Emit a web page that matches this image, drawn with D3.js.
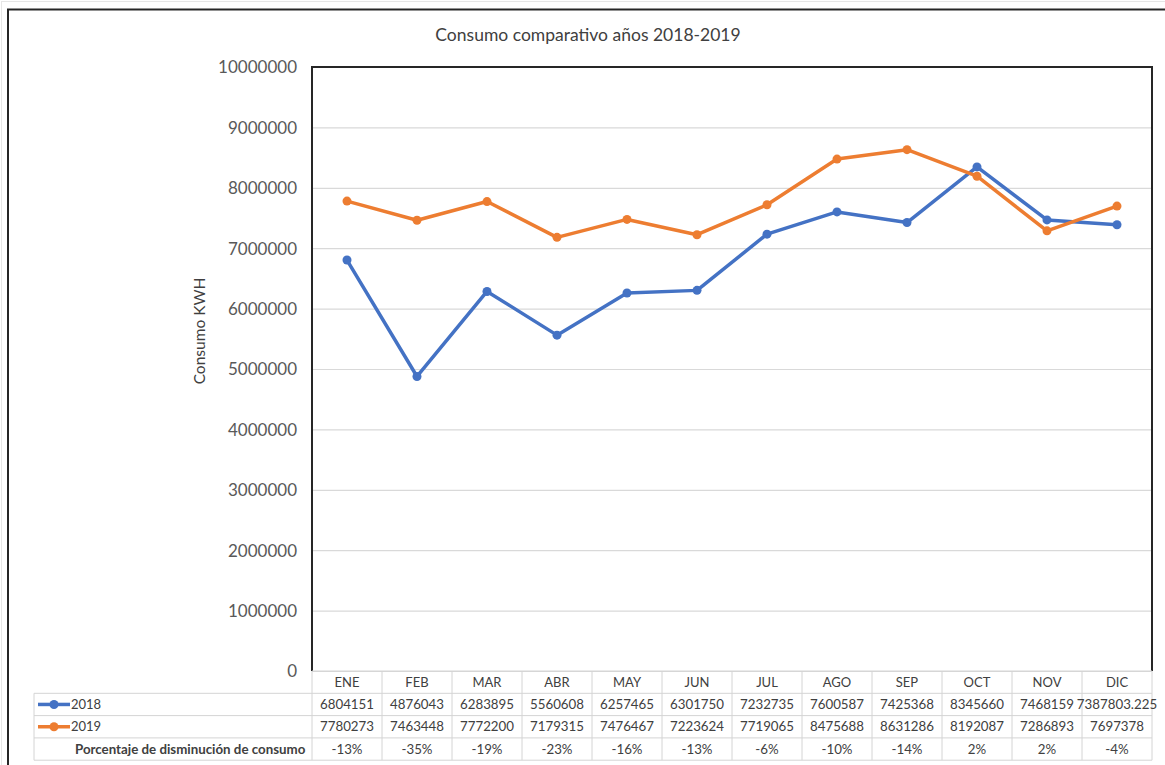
<!DOCTYPE html>
<html>
<head>
<meta charset="utf-8">
<script src="https://cdn.jsdelivr.net/npm/d3@7"></script>
<style>
  body { margin: 0; background: #fff; }
  text { font-family: Lato, "Open Sans", sans-serif; }
</style>
</head>
<body>
<div id="chart"></div>
<script>
  // data
  var months = ["ENE", "FEB", "MAR", "ABR", "MAY", "JUN", "JUL", "AGO", "SEP", "OCT", "NOV", "DIC"]
  var consumo2018 = [6804151, 4876043, 6283895, 5560608, 6257465, 6301750, 7232735, 7600587, 7425368, 8345660, 7468159, 7387803.225]
  var consumo2019 = [7780273, 7463448, 7772200, 7179315, 7476467, 7223624, 7719065, 8475688, 8631286, 8192087, 7286893, 7697378]
  var porcentaje = ["-13%", "-35%", "-19%", "-23%", "-16%", "-13%", "-6%", "-10%", "-14%", "2%", "2%", "-4%"]
  var yTicks = [0, 1000000, 2000000, 3000000, 4000000, 5000000, 6000000, 7000000, 8000000, 9000000, 10000000]

  drawChart()

  function drawChart() {

    var series = [
      { name: "2018", values: consumo2018, color: "#4472C4" },
      { name: "2019", values: consumo2019, color: "#ED7D31" }
    ]

    var width = 1165,
      height = 765

    // plot area
    var plotLeft = 312, plotRight = 1152, plotTop = 67, plotBottom = 671
    var rowH = 22.3

    var svg = d3.select("#chart").append("svg")
      .attr("width", width)
      .attr("height", height)

    // outer frame
    svg.append("rect")
      .attr("x", 1.5).attr("y", 1.5)
      .attr("width", width + 10).attr("height", height + 10)
      .attr("fill", "none").attr("stroke", "#e6e6e6").attr("stroke-width", 1)
    svg.append("rect")
      .attr("x", 8).attr("y", 9.5)
      .attr("width", width + 20).attr("height", height + 20)
      .attr("fill", "none").attr("stroke", "#262626").attr("stroke-width", 2)

    var x = d3.scaleBand().domain(months).range([plotLeft, plotRight])
    var y = d3.scaleLinear().domain([0, 10000000]).range([plotBottom, plotTop])

    // gridlines
    svg.append("g")
      .attr("transform", "translate(" + plotLeft + ",0)")
      .call(d3.axisLeft(y).tickValues(yTicks).tickSize(-(plotRight - plotLeft)).tickFormat(""))
      .call(function(g) {
        g.select(".domain").remove()
        g.selectAll("line").attr("stroke", "#d9d9d9").attr("stroke-width", 1.2)
      })

    // y tick labels
    svg.append("g")
      .attr("transform", "translate(297,0)")
      .call(d3.axisLeft(y).tickValues(yTicks).tickSize(0).tickPadding(0).tickFormat(d3.format("d")))
      .call(function(g) {
        g.select(".domain").remove()
        g.selectAll("text")
          .attr("fill", "#595959")
          .style("font-size", "17px")
          .style("font-family", "Lato, sans-serif")
          .attr("dy", "0.35em")
      })

    // plot frame: left, top, right
    svg.append("path")
      .attr("d", "M" + plotLeft + "," + plotBottom + "V" + plotTop + "H" + plotRight + "V" + plotBottom)
      .attr("fill", "none").attr("stroke", "#262626").attr("stroke-width", 2)

    // title
    svg.append("text")
      .attr("x", 588).attr("y", 35)
      .attr("dy", "0.35em")
      .attr("text-anchor", "middle")
      .attr("fill", "#404040")
      .style("font-size", "17.5px")
      .text("Consumo comparativo años 2018-2019")

    // y axis title
    svg.append("text")
      .attr("transform", "translate(200,331) rotate(-90)")
      .attr("dy", "0.35em")
      .attr("text-anchor", "middle")
      .attr("fill", "#404040")
      .style("font-size", "15.5px")
      .text("Consumo KWH")

    // lines and markers
    var cx = function(d, i) { return x(months[i]) + x.bandwidth() / 2 }

    var line = d3.line()
      .x(cx)
      .y(function(d) { return y(d) })

    var lines = svg.append("g")
      .selectAll("g")
      .data(series)
      .enter().append("g")

    lines.append("path")
      .attr("d", function(d) { return line(d.values) })
      .attr("fill", "none")
      .attr("stroke", function(d) { return d.color })
      .attr("stroke-width", 3.5)
      .attr("stroke-linejoin", "round")

    lines.each(function(s) {
      d3.select(this).selectAll("circle")
        .data(s.values)
        .enter().append("circle")
        .attr("cx", cx)
        .attr("cy", function(d) { return y(d) })
        .attr("r", 4.5)
        .attr("fill", s.color)
    })

    // data table
    var tableLeft = 34
    var rows = [
      { label: "2018", values: consumo2018.map(String), color: "#4472C4" },
      { label: "2019", values: consumo2019.map(String), color: "#ED7D31" },
      { label: "Porcentaje de disminución de consumo", values: porcentaje, color: null }
    ]
    var rowY = function(i) { return plotBottom + rowH * (i + 1) }
    var tableBottom = rowY(rows.length)

    var table = svg.append("g")
    var gridColor = "#d4d4d4"

    // header top and verticals
    table.append("line")
      .attr("x1", plotLeft).attr("x2", plotRight).attr("y1", plotBottom).attr("y2", plotBottom)
      .attr("stroke", gridColor)
    table.selectAll("line.v")
      .data(months.concat(["end"]))
      .enter().append("line")
      .attr("class", "v")
      .attr("x1", function(d) { return d === "end" ? plotRight : x(d) })
      .attr("x2", function(d) { return d === "end" ? plotRight : x(d) })
      .attr("y1", plotBottom).attr("y2", tableBottom)
      .attr("stroke", gridColor)
    // left edge of label column
    table.append("line")
      .attr("x1", tableLeft).attr("x2", tableLeft).attr("y1", rowY(0)).attr("y2", tableBottom)
      .attr("stroke", gridColor)
    // horizontal row lines
    table.selectAll("line.h")
      .data(d3.range(rows.length + 1))
      .enter().append("line")
      .attr("class", "h")
      .attr("x1", tableLeft).attr("x2", plotRight)
      .attr("y1", function(i) { return rowY(i) })
      .attr("y2", function(i) { return rowY(i) })
      .attr("stroke", gridColor)

    // header months
    table.selectAll("text.month")
      .data(months)
      .enter().append("text")
      .attr("class", "month")
      .attr("x", function(d) { return x(d) + x.bandwidth() / 2 })
      .attr("y", plotBottom + rowH / 2)
      .attr("dy", "0.35em")
      .attr("text-anchor", "middle")
      .attr("fill", "#404040")
      .style("font-size", "13px")
      .text(function(d) { return d })

    rows.forEach(function(r, i) {
      var cy = rowY(i) + rowH / 2
      if (r.color) {
        table.append("line")
          .attr("x1", 38).attr("x2", 70).attr("y1", cy).attr("y2", cy)
          .attr("stroke", r.color).attr("stroke-width", 3.5)
        table.append("circle")
          .attr("cx", 54).attr("cy", cy).attr("r", 4.5)
          .attr("fill", r.color)
      }
      table.append("text")
        .attr("x", r.color ? 71 : 75)
        .attr("y", cy)
        .attr("dy", "0.35em")
        .attr("fill", "#404040")
        .style("font-size", r.color ? "13px" : "13.3px")
        .style("font-weight", r.color ? "normal" : "bold")
        .text(r.label)

      table.selectAll(null)
        .data(r.values)
        .enter().append("text")
        .attr("x", cx)
        .attr("y", cy)
        .attr("dy", "0.35em")
        .attr("text-anchor", "middle")
        .attr("fill", "#404040")
        .style("font-size", "13.3px")
        .text(function(d) { return d })
    })

  } // end drawChart
</script>
</body>
</html>
